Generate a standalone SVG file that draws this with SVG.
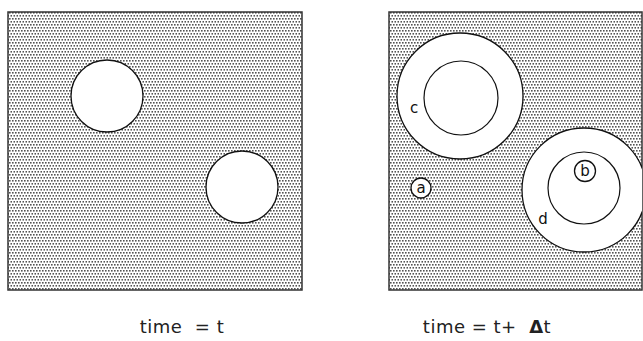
<svg xmlns="http://www.w3.org/2000/svg" width="643" height="341" viewBox="0 0 643 341">
<style>
.box{fill:url(#dots);stroke:#333;stroke-width:1.5}
.hole{fill:#fff;stroke:#111;stroke-width:1.3}
.ring{fill:none;stroke:#111;stroke-width:1.2}
.lbl{font-family:"DejaVu Sans",Arial,sans-serif;font-size:15px;fill:#111}
.cap{font-family:"DejaVu Sans",Arial,sans-serif;font-size:18px;fill:#222;letter-spacing:0.5px;white-space:pre}
</style>
<defs>
<pattern id="dots" width="3" height="6" patternUnits="userSpaceOnUse">
<rect width="3" height="6" fill="#fff"/>
<rect x="0" y="0" width="1.6" height="1.6" fill="#555"/>
<rect x="1.5" y="3" width="1.6" height="1.6" fill="#555"/>
</pattern>
<clipPath id="rclip"><rect x="389" y="12" width="253" height="278"/></clipPath>
</defs>
<g id="panel-t">
<rect class="box" x="8" y="12" width="294" height="278"/>
<circle class="hole" cx="107" cy="96" r="36"/>
<circle class="hole" cx="242" cy="187" r="36"/>
</g>
<g id="panel-t-dt">
<rect class="box" x="389" y="12" width="253" height="278"/>
<g clip-path="url(#rclip)">
<circle class="hole" cx="460" cy="96" r="63"/>
<circle class="hole" cx="584" cy="190" r="62"/>
</g>
<circle class="ring" cx="461" cy="98" r="37"/>
<circle class="ring" cx="584" cy="188" r="36"/>
<g id="node-a"><circle class="hole" cx="421" cy="188" r="10"/><text class="lbl" x="421" y="193" text-anchor="middle">a</text></g>
<g id="node-b"><circle class="hole" cx="585" cy="171" r="10.5"/><text class="lbl" x="585" y="176" text-anchor="middle">b</text></g>
<text id="lbl-c" class="lbl" x="414" y="113" text-anchor="middle">c</text>
<text id="lbl-d" class="lbl" x="543" y="224" text-anchor="middle">d</text>
</g>
<text id="cap-left" class="cap" x="182" y="333" text-anchor="middle">time  = t</text>
<text id="cap-right" class="cap" x="487" y="333" text-anchor="middle">time = t+  <tspan font-weight="bold">Δ</tspan>t</text>
</svg>
